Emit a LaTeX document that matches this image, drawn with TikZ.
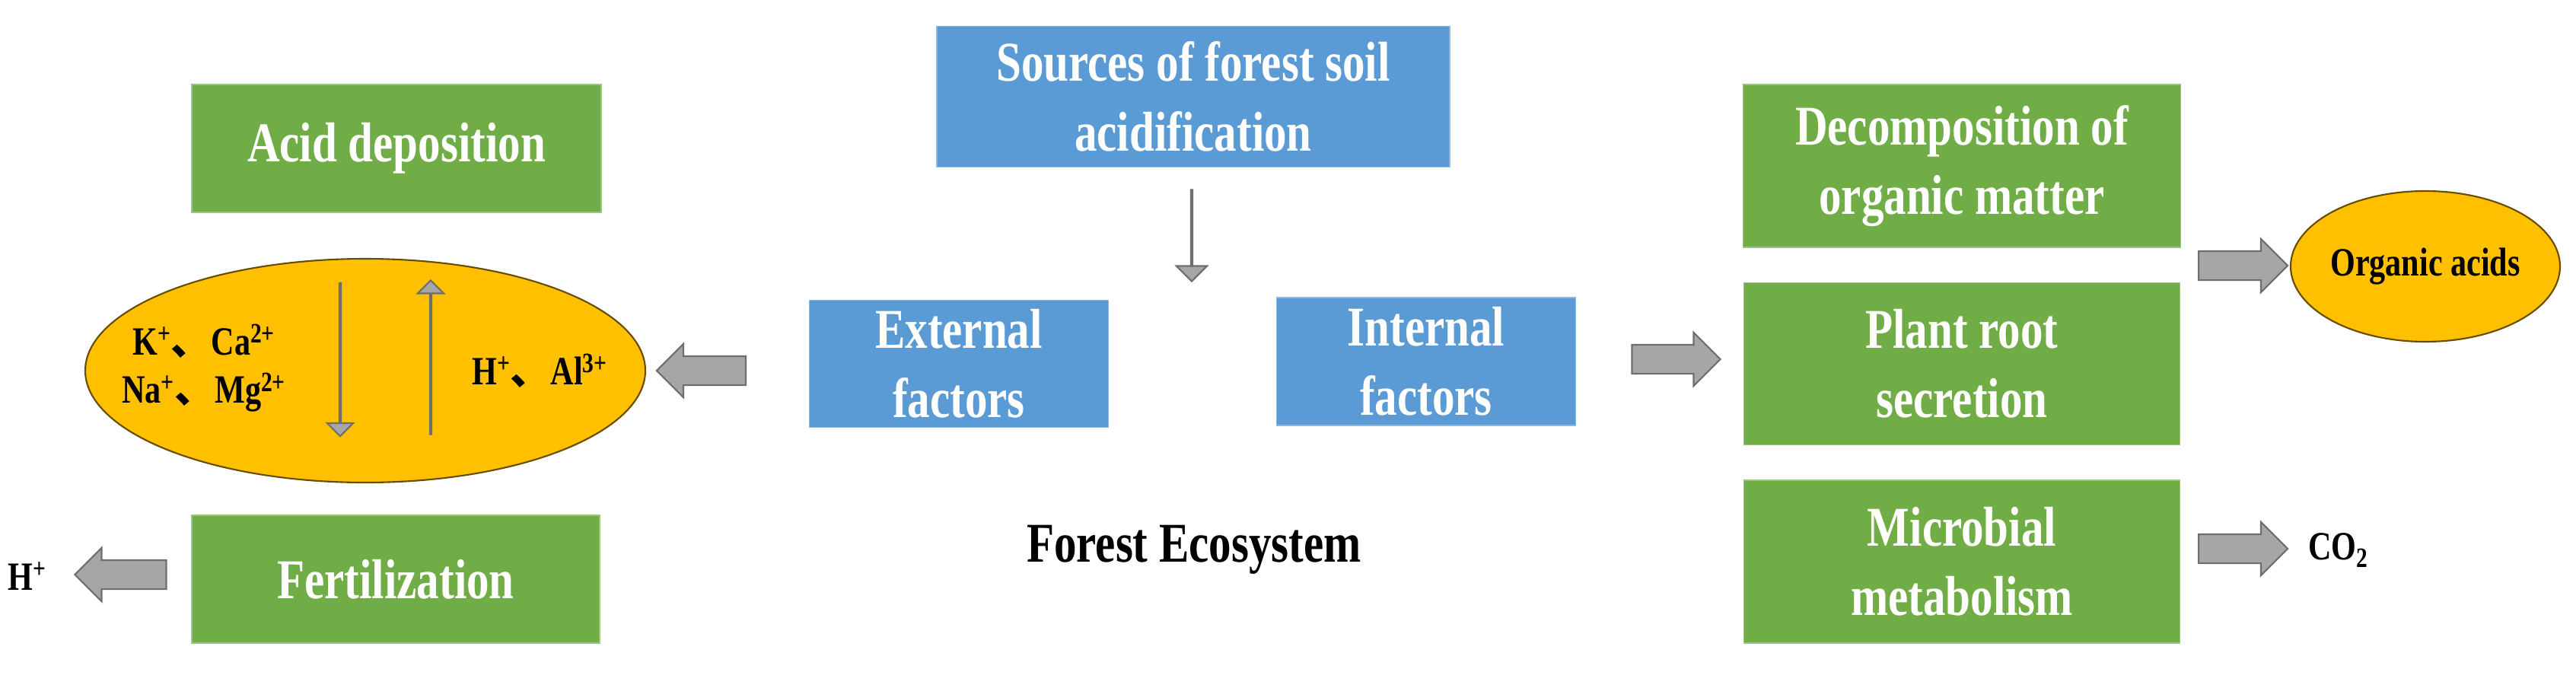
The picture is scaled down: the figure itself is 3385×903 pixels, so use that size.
\documentclass[tikz,border=0pt]{standalone}
\usepackage{fontspec}
\setmainfont{Liberation Serif}[FakeStretch=0.8]
\newfontfamily\cjk{Noto Sans CJK SC}
\usetikzlibrary{shapes.arrows,shapes.geometric}
\definecolor{gbox}{HTML}{70AD47}
\definecolor{bbox}{HTML}{5B9BD5}
\definecolor{obox}{HTML}{FFC000}
\definecolor{garr}{HTML}{A6A6A6}
\definecolor{garrd}{HTML}{6E6E6E}
\newcommand\dn{{\cjk 、}}
\tikzset{
  gbx/.style={fill=gbox,draw=gbox!70!white,line width=1pt,text=white,font=\fontsize{42}{52}\selectfont\bfseries,align=center,inner sep=0pt},
  bbx/.style={fill=bbox,draw=bbox!70!white,line width=1pt,text=white,font=\fontsize{42}{52}\selectfont\bfseries,align=center,inner sep=0pt},
  oval/.style={ellipse,fill=obox,draw=black!60!obox,line width=1.2pt,inner sep=0pt},
  barr/.style={single arrow,fill=garr,draw=garrd,line width=1.2pt,inner xsep=0pt,inner ysep={18*0.02cm},single arrow head extend={16*0.02cm},single arrow tip angle=90},
  smalltxt/.style={font=\fontsize{30}{36}\selectfont\bfseries,align=center,inner sep=0pt}
}
\begin{document}
\begin{tikzpicture}[x=0.02cm,y=-0.02cm]
\useasboundingbox (0,0) rectangle (3385,903);
% boxes
\node[gbx,minimum width={538*0.02cm},minimum height={168*0.02cm}] (acid) at (521,195) {Acid deposition};
\node[gbx,minimum width={536*0.02cm},minimum height={168*0.02cm}] (fert) at (520,761) {Fertilization};
\node[bbx,minimum width={674*0.02cm},minimum height={185*0.02cm}] (src) at (1568,127) {Sources of forest soil\\acidification};
\node[bbx,minimum width={393*0.02cm},minimum height={167*0.02cm}] (ext) at (1260,478) {External\\factors};
\node[bbx,minimum width={393*0.02cm},minimum height={168*0.02cm}] (int) at (1874,475) {Internal\\factors};
\node[gbx,minimum width={575*0.02cm},minimum height={214*0.02cm}] (dec) at (2578,218) {Decomposition of\\organic matter};
\node[gbx,minimum width={573*0.02cm},minimum height={213*0.02cm}] (root) at (2578,478) {Plant root\\secretion};
\node[gbx,minimum width={573*0.02cm},minimum height={214*0.02cm}] (mic) at (2578,738) {Microbial\\metabolism};
% ellipses
\node[oval,minimum width={736*0.02cm},minimum height={294*0.02cm}] (soil) at (480,487) {};
\node[oval,minimum width={354*0.02cm},minimum height={198*0.02cm}] (oa) at (3187,350) {};
\node[smalltxt] (oat) at (oa.center) {Organic acids};
% texts
\node[smalltxt] (ions) at (268,484) {K\textsuperscript{+}\dn Ca\textsuperscript{2+}\\Na\textsuperscript{+}\dn Mg\textsuperscript{2+}};
\node[smalltxt,anchor=west] (hal) at (620,487) {H\textsuperscript{+}\dn Al\textsuperscript{3+}};
\node[smalltxt,anchor=west] (hp) at (10,757) {H\textsuperscript{+}};
\node[smalltxt,anchor=west] (co2) at (3033,723) {CO\textsubscript{2}};
\node[font=\fontsize{42}{52}\selectfont\bfseries] (fe) at (1569,722) {Forest Ecosystem};
% block arrows
\node[barr,minimum height={120*0.02cm},inner ysep={20*0.02cm},single arrow head extend={19*0.02cm},shape border rotate=270] (a1) at (1566,309) {};
\node[barr,minimum height={117*0.02cm},shape border rotate=180] (a2) at (931,487) {};
\node[barr,minimum height={116*0.02cm}] (a3) at (2193,472) {};
\node[barr,minimum height={117*0.02cm}] (a4) at (2938,349) {};
\node[barr,minimum height={117*0.02cm}] (a5) at (2938,721) {};
\node[barr,minimum height={120*0.02cm},shape border rotate=180] (a6) at (168,755) {};
\node[barr,minimum height={201*0.02cm},shape border rotate=270] (a7) at (447,472) {};
\node[barr,minimum height={202*0.02cm},shape border rotate=90] (a8) at (566,470) {};
\end{tikzpicture}
\end{document}
